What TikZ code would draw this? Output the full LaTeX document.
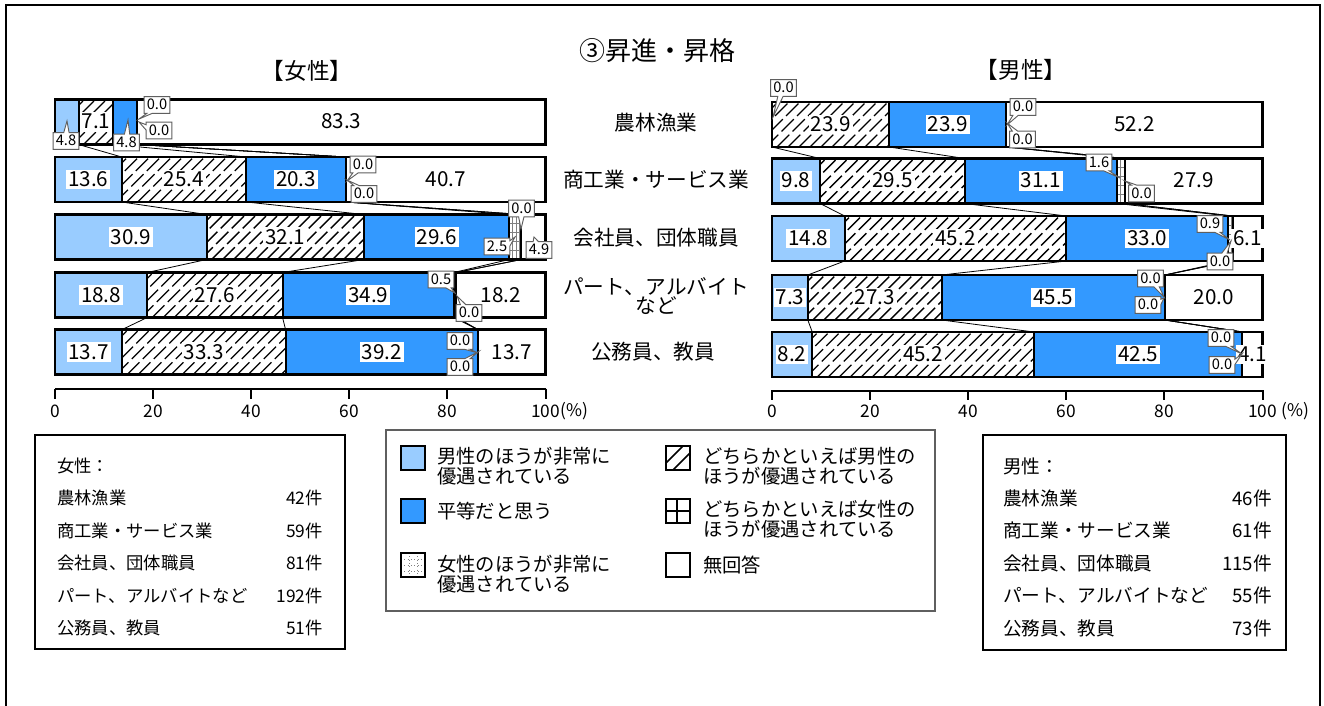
\documentclass[tikz,border=0pt]{standalone}
\usepackage{fontspec}
\setmainfont{Noto Sans CJK JP}
\usetikzlibrary{shapes.callouts}
\definecolor{lblue}{RGB}{153,204,255}
\definecolor{mblue}{RGB}{51,153,255}
\definecolor{cogray}{RGB}{95,95,95}

% #1 name, #2 x0, #3 y centre, #4..#9 six values (%)
\newcommand\hbarrow[9]{%
 \pgfmathsetmacro\yt{#3-22.5}\pgfmathsetmacro\yb{#3+22.5}%
 \pgfmathsetmacro\pA{#2+4.905*#4}%
 \pgfmathsetmacro\pB{\pA+4.905*#5}%
 \pgfmathsetmacro\pC{\pB+4.905*#6}%
 \pgfmathsetmacro\pD{\pC+4.905*#7}%
 \pgfmathsetmacro\pE{\pD+4.905*#8}%
 \pgfmathsetmacro\pF{#2+490.5}%
 \fill[lblue] (#2,\yt) rectangle (\pA,\yb);
 \fill[white] (\pA,\yt) rectangle (\pB,\yb);
 \begin{scope}
  \clip (\pA,\yt) rectangle (\pB,\yb);
  \foreach \q in {0,11,...,550} \draw[hatchln] (\pA-50+\q,\yb) -- ++(50,-50);
 \end{scope}
 \fill[mblue] (\pB,\yt) rectangle (\pC,\yb);
 \fill[white] (\pC,\yt) rectangle (\pF,\yb);
 \begin{scope}
  \clip (\pC,\yt) rectangle (\pD,\yb);
  \foreach \q in {0,3.5,...,60} \draw[gridln] (\pC+\q,\yt) -- (\pC+\q,\yb);
  \foreach \q in {0,9,...,45} \draw[gridln] (\pC,\yt+\q) -- (\pD,\yt+\q);
 \end{scope}
 \foreach \p in {\pA,\pB,\pC,\pD,\pE} \draw[sepln] (\p,\yt) -- (\p,\yb);
 \draw[outer] (#2,\yt) rectangle (\pF,\yb);
 \coordinate (#1-t1) at (\pA,\yt); \coordinate (#1-b1) at (\pA,\yb);
 \coordinate (#1-t2) at (\pB,\yt); \coordinate (#1-b2) at (\pB,\yb);
 \coordinate (#1-t3) at (\pC,\yt); \coordinate (#1-b3) at (\pC,\yb);
 \coordinate (#1-t4) at (\pD,\yt); \coordinate (#1-b4) at (\pD,\yb);
 \coordinate (#1-t5) at (\pE,\yt); \coordinate (#1-b5) at (\pE,\yb);
 \coordinate (#1-c1) at ({(#2+\pA)/2},#3);
 \coordinate (#1-c2) at ({(\pA+\pB)/2},#3);
 \coordinate (#1-c3) at ({(\pB+\pC)/2},#3);
 \coordinate (#1-c6) at ({(\pE+\pF)/2},#3);
}

\begin{document}
\begin{tikzpicture}[x=0.75pt,y=-0.75pt,
 hatchln/.style={line width=1pt, dash pattern=on 13pt off 3.5pt},
 gridln/.style={line width=0.5pt, gray},
 sepln/.style={line width=1.5pt},
 outer/.style={line width=2pt},
 series/.style={line width=0.6pt},
 vl/.style={fill=white, inner xsep=1.5pt, inner ysep=1.5pt, text height=11pt, text depth=0.5pt, font=\fontsize{15.5}{15.5}\selectfont},
 co/.style={rectangle callout, draw=cogray, line width=0.7pt, fill=white, inner xsep=2pt, inner ysep=1.8pt, text height=8pt, text depth=1pt, font=\fontsize{11}{11}\selectfont, callout pointer width=4pt},
 cat/.style={font=\fontsize{15.5}{13.7}\selectfont, align=center},
 ttl/.style={font=\fontsize{17}{17}\selectfont},
 axln/.style={line width=1.5pt},
 axlab/.style={font=\fontsize{13}{13}\selectfont, inner sep=0pt},
 leg/.style={font=\fontsize{14.5}{15}\selectfont, align=left, anchor=west, inner sep=0pt},
 swb/.style={line width=1.5pt},
 cntl/.style={font=\fontsize{13}{13}\selectfont, inner sep=0pt},
 cntr/.style={font=\fontsize{14}{14}\selectfont, inner sep=0pt},
 box/.style={line width=1.1pt}
]
\useasboundingbox (0,0) rectangle (1324,706);
\fill[white] (0,0) rectangle (1324,706);
\draw[line width=1.5pt] (6,5) rectangle (1320,730);

% titles
\node[font=\fontsize{19.5}{20}\selectfont] (title) at (657,51) {③昇進・昇格};
\node[ttl] (ftitle) at (307,71) {【女性】};
\node[ttl] (mtitle) at (1021,70) {【男性】};

% bars
\hbarrow{F1}{55}{122}{4.8}{7.1}{4.8}{0.0}{0.0}{83.3}
\hbarrow{F2}{55}{179.5}{13.6}{25.4}{20.3}{0.0}{0.0}{40.7}
\hbarrow{F3}{55}{237}{30.9}{32.1}{29.6}{2.5}{0.0}{4.9}
\hbarrow{F4}{55}{295}{18.8}{27.6}{34.9}{0.5}{0.0}{18.2}
\hbarrow{F5}{55}{352}{13.7}{33.3}{39.2}{0.0}{0.0}{13.7}
\hbarrow{M1}{772}{124.5}{0.0}{23.9}{23.9}{0.0}{0.0}{52.2}
\hbarrow{M2}{772}{181}{9.8}{29.5}{31.1}{1.6}{0.0}{27.9}
\hbarrow{M3}{772}{238.5}{14.8}{45.2}{33.0}{0.9}{0.0}{6.1}
\hbarrow{M4}{772}{297.5}{7.3}{27.3}{45.5}{0.0}{0.0}{20.0}
\hbarrow{M5}{772}{354.5}{8.2}{45.2}{42.5}{0.0}{0.0}{4.1}

% series lines
\foreach \a/\b in {F1/F2,F2/F3,F3/F4,F4/F5,M1/M2,M2/M3,M3/M4,M4/M5}
 \foreach \k in {1,...,5}
  \draw[series] (\a-b\k) -- (\b-t\k);

% value labels female
\node[vl] (f1v2) at (F1-c2) {7.1};
\node[vl] (f1v6) at (F1-c6) {83.3};
\node[vl] (f2v1) at (F2-c1) {13.6};
\node[vl] (f2v2) at (F2-c2) {25.4};
\node[vl] (f2v3) at (F2-c3) {20.3};
\node[vl] (f2v6) at (F2-c6) {40.7};
\node[vl] (f3v1) at (F3-c1) {30.9};
\node[vl] (f3v2) at (F3-c2) {32.1};
\node[vl] (f3v3) at (F3-c3) {29.6};
\node[vl] (f4v1) at (F4-c1) {18.8};
\node[vl] (f4v2) at (F4-c2) {27.6};
\node[vl] (f4v3) at (F4-c3) {34.9};
\node[vl] (f4v6) at (F4-c6) {18.2};
\node[vl] (f5v1) at (F5-c1) {13.7};
\node[vl] (f5v2) at (F5-c2) {33.3};
\node[vl] (f5v3) at (F5-c3) {39.2};
\node[vl] (f5v6) at (F5-c6) {13.7};
% value labels male
\node[vl] (m1v2) at (M1-c2) {23.9};
\node[vl] (m1v3) at (M1-c3) {23.9};
\node[vl] (m1v6) at (M1-c6) {52.2};
\node[vl] (m2v1) at (M2-c1) {9.8};
\node[vl] (m2v2) at (M2-c2) {29.5};
\node[vl] (m2v3) at (M2-c3) {31.1};
\node[vl] (m2v6) at (M2-c6) {27.9};
\node[vl] (m3v1) at (M3-c1) {14.8};
\node[vl] (m3v2) at (M3-c2) {45.2};
\node[vl] (m3v3) at (M3-c3) {33.0};
\node[vl] (m3v6) at (M3-c6) {6.1};
\node[vl] (m4v1) at (M4-c1) {7.3};
\node[vl] (m4v2) at (M4-c2) {27.3};
\node[vl] (m4v3) at (M4-c3) {45.5};
\node[vl] (m4v6) at (M4-c6) {20.0};
\node[vl] (m5v1) at (M5-c1) {8.2};
\node[vl] (m5v2) at (M5-c2) {45.2};
\node[vl] (m5v3) at (M5-c3) {42.5};
\node[vl] (m5v6) at (M5-c6) {4.1};

% callouts female
\node[co, callout absolute pointer={(67,121)}] (f1a) at (66,141) {4.8};
\node[co, callout absolute pointer={(128,120)}] (f1b) at (126.5,142.5) {4.8};
\node[co, callout absolute pointer={(139,119)}] (f1c) at (157,105) {0.0};
\node[co, callout absolute pointer={(139,122)}] (f1d) at (159,130.5) {0.0};
\node[co, callout absolute pointer={(347,181)}] (f2a) at (363,164.5) {0.0};
\node[co, callout absolute pointer={(347,180)}] (f2b) at (364,194) {0.0};
\node[co, callout absolute pointer={(515,237)}] (f3a) at (497,246.5) {2.5};
\node[co, callout absolute pointer={(521,229)}] (f3b) at (521.5,208.5) {0.0};
\node[co, callout absolute pointer={(534,237)}] (f3c) at (539,250) {4.9};
\node[co, callout absolute pointer={(455,293)}] (f4a) at (441,279.5) {0.5};
\node[co, callout absolute pointer={(457,296)}] (f4b) at (469,313) {0.0};
\node[co, callout absolute pointer={(478,353)}] (f5a) at (460,341) {0.0};
\node[co, callout absolute pointer={(478,352)}] (f5b) at (460,367) {0.0};
% callouts male
\node[co, callout absolute pointer={(773,117)}] (m1a) at (783.5,88) {0.0};
\node[co, callout absolute pointer={(1007,125)}] (m1b) at (1023,107) {0.0};
\node[co, callout absolute pointer={(1007,123)}] (m1c) at (1022.5,139.5) {0.0};
\node[co, callout absolute pointer={(1120,178)}] (m2a) at (1099,162.5) {1.6};
\node[co, callout absolute pointer={(1125,181)}] (m2b) at (1141.5,193.5) {0.0};
\node[co, callout absolute pointer={(1230,240)}] (m3a) at (1210,224) {0.9};
\node[co, callout absolute pointer={(1231,241)}] (m3b) at (1220,261.5) {0.0};
\node[co, callout absolute pointer={(1164,297)}] (m4a) at (1150.5,278.5) {0.0};
\node[co, callout absolute pointer={(1164,298)}] (m4b) at (1148,305) {0.0};
\node[co, callout absolute pointer={(1242,354)}] (m5a) at (1221,338) {0.0};
\node[co, callout absolute pointer={(1242,354)}] (m5b) at (1222,365) {0.0};

% category labels
\node[cat] (cat1) at (656,123) {農林漁業};
\node[cat] (cat2) at (656,180) {商工業・サービス業};
\node[cat] (cat3) at (656,238) {会社員、団体職員};
\node[cat] (cat4) at (656,296) {パート、アルバイト\\など};
\node[cat] (cat5) at (653,352) {公務員、教員};

% axes
\draw[axln] (55,389) -- (545.5,389);
\foreach \v in {0,20,...,100} \draw[axln] (55+4.905*\v,388.5) -- ++(0,10);
\foreach \v in {0,20,40,60,80} \node[axlab] (fx\v) at (55+4.905*\v,411) {\v};
\node[axlab] (fx100) at (545.5,411) {100};
\node[axlab, anchor=west] (fpct) at (fx100.east) {(\%)};
\draw[axln] (772,390.5) -- (1262.5,390.5);
\foreach \v in {0,20,...,100} \draw[axln] (772+4.905*\v,390) -- ++(0,10);
\foreach \v in {0,20,40,60,80} \node[axlab] (mx\v) at (772+4.905*\v,411) {\v};
\node[axlab] (mx100) at (1262.5,411) {100};
\node[axlab, anchor=west] (mpct) at ([xshift=3pt]mx100.east) {(\%)};

% count boxes
\draw[box] (35,435) rectangle (345,649);
\node[cntl, anchor=west] (fh) at (57,466) {女性：};
\node[cntl, anchor=west] (fl1) at (57,498.4) {農林漁業};
\node[cntl, anchor=west] (fl2) at (57,530.8) {商工業・サービス業};
\node[cntl, anchor=west] (fl3) at (57,563.2) {会社員、団体職員};
\node[cntl, anchor=west] (fl4) at (57,595.6) {パート、アルバイトなど};
\node[cntl, anchor=west] (fl5) at (57,628) {公務員、教員};
\node[cntl, anchor=east] (fn1) at (323,498.4) {42件};
\node[cntl, anchor=east] (fn2) at (323,530.8) {59件};
\node[cntl, anchor=east] (fn3) at (323,563.2) {81件};
\node[cntl, anchor=east] (fn4) at (323,595.6) {192件};
\node[cntl, anchor=east] (fn5) at (323,628) {51件};

\draw[box] (983,435) rectangle (1286,650);
\node[cntr, anchor=west] (mh) at (1003,466) {男性：};
\node[cntr, anchor=west] (ml1) at (1003,498.4) {農林漁業};
\node[cntr, anchor=west] (ml2) at (1003,530.8) {商工業・サービス業};
\node[cntr, anchor=west] (ml3) at (1003,563.2) {会社員、団体職員};
\node[cntr, anchor=west] (ml4) at (1003,595.6) {パート、アルバイトなど};
\node[cntr, anchor=west] (ml5) at (1003,628) {公務員、教員};
\node[cntr, anchor=east] (mn1) at (1272,498.4) {46件};
\node[cntr, anchor=east] (mn2) at (1272,530.8) {61件};
\node[cntr, anchor=east] (mn3) at (1272,563.2) {115件};
\node[cntr, anchor=east] (mn4) at (1272,595.6) {55件};
\node[cntr, anchor=east] (mn5) at (1272,628) {73件};

% legend
\draw[line width=0.9pt, draw=cogray] (386,430) rectangle (935,611);
\draw[swb, fill=lblue] (401,446) rectangle (425,470);
\node[leg] (lg1) at (437,466) {男性のほうが非常に\\優遇されている};
\draw[swb, fill=mblue] (401,499) rectangle (425,523);
\node[leg] (lg2) at (437,511) {平等だと思う};
\fill[white] (401,553) rectangle (425,577);
\foreach \q in {559,565,571} \draw[gray, line width=0.5pt, dotted] (401,\q) -- (425,\q);
\foreach \q in {409,417} \draw[gray, line width=0.5pt, dotted] (\q,553) -- (\q,577);
\draw[swb] (401,553) rectangle (425,577);
\node[leg] (lg3) at (437,574.5) {女性のほうが非常に\\優遇されている};
\fill[white] (666,446) rectangle (690,470);
\begin{scope}
 \clip (666,446) rectangle (690,470);
 \foreach \q in {-7,7} \draw[line width=1.2pt] (666+\q,470) -- ++(30,-30);
\end{scope}
\draw[swb] (666,446) rectangle (690,470);
\node[leg] (lg4) at (703,466) {どちらかといえば男性の\\ほうが優遇されている};
\fill[white] (666,499) rectangle (690,523);
\draw[line width=1.2pt] (677,499) -- (677,523) (666,511) -- (690,511);
\draw[swb] (666,499) rectangle (690,523);
\node[leg] (lg5) at (703,519.5) {どちらかといえば女性の\\ほうが優遇されている};
\draw[swb, fill=white] (666,553) rectangle (690,577);
\node[leg] (lg6) at (703,565) {無回答};
\end{tikzpicture}
\end{document}
